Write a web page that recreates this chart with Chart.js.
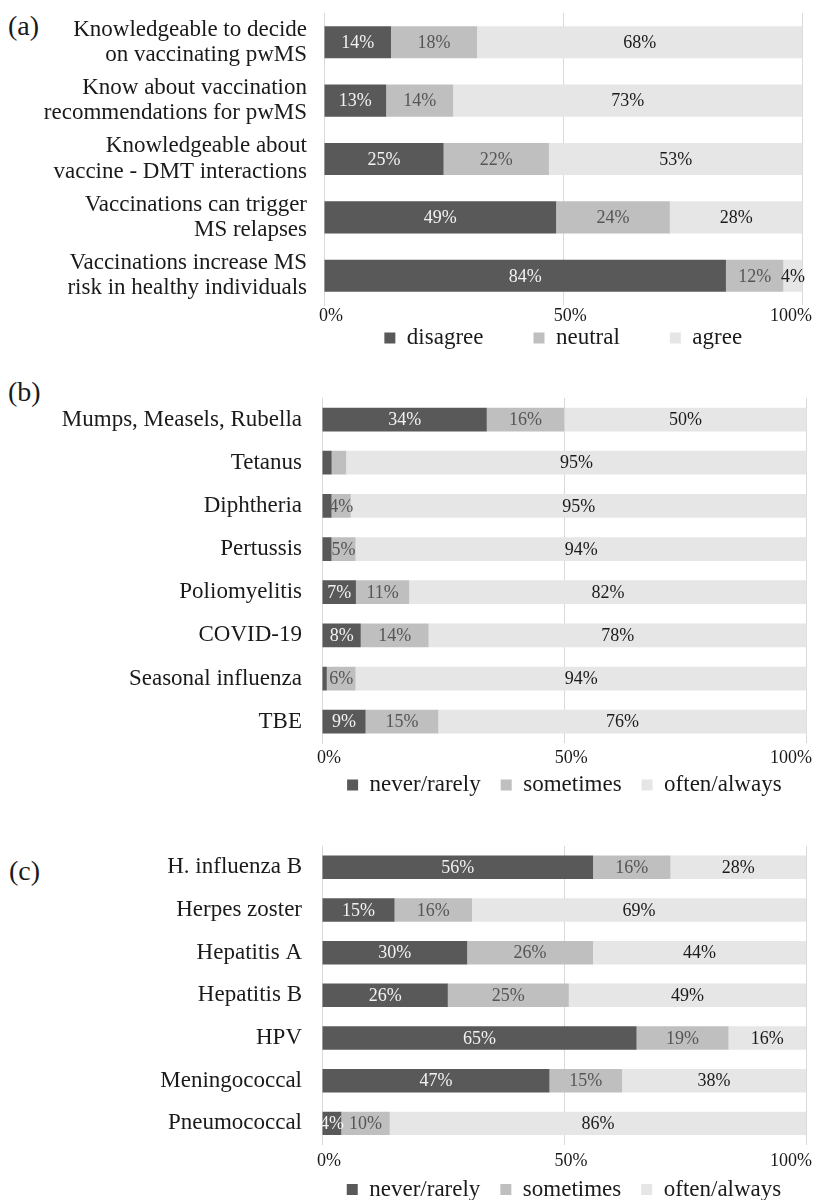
<!DOCTYPE html>
<html>
<head>
<meta charset="utf-8">
<script src="https://cdn.jsdelivr.net/npm/chart.js@4.4.1/dist/chart.umd.min.js"></script>
<style>
  html, body { margin: 0; padding: 0; background: #fff; overflow: hidden; }
  #page { position: relative; width: 814px; height: 1200px; }
  canvas { position: absolute; left: 0; }
  .tag { position: absolute; font: 28px/28px "Liberation Serif", "Times New Roman", serif; color: #1a1a1a; }
</style>
</head>
<body>
<div id="page">
  <div class="tag" style="left:8px;top:12px">(a)</div>
  <div class="tag" style="left:8px;top:378px">(b)</div>
  <div class="tag" style="left:9px;top:857px">(c)</div>
  <canvas id="chartA"></canvas>
  <canvas id="chartB"></canvas>
  <canvas id="chartC"></canvas>
</div>
<script>
const SERIF = '"Liberation Serif", "Times New Roman", serif';

// (a) knowledge / attitudes
const aCategories = [
  ['Knowledgeable to decide', 'on vaccinating pwMS'],
  ['Know about vaccination', 'recommendations for pwMS'],
  ['Knowledgeable about', 'vaccine - DMT interactions'],
  ['Vaccinations can trigger', 'MS relapses'],
  ['Vaccinations increase MS', 'risk in healthy individuals']
];
const aSeriesNames = ['disagree', 'neutral', 'agree'];
const aDisagree = [14, 13, 25, 49, 84];
const aNeutral = [18, 14, 22, 24, 12];
const aAgree = [68, 73, 53, 28, 4];

// (b) standard vaccinations
const bCategories = ['Mumps, Measels, Rubella', 'Tetanus', 'Diphtheria', 'Pertussis',
  'Poliomyelitis', 'COVID-19', 'Seasonal influenza', 'TBE'];
const bSeriesNames = ['never/rarely', 'sometimes', 'often/always'];
const bNever = [34, 2, 2, 2, 7, 8, 1, 9];
const bSometimes = [16, 3, 4, 5, 11, 14, 6, 15];
const bOften = [50, 95, 95, 94, 82, 78, 94, 76];

// (c) indication vaccinations
const cCategories = ['H. influenza B', 'Herpes zoster', 'Hepatitis A', 'Hepatitis B',
  'HPV', 'Meningococcal', 'Pneumococcal'];
const cSeriesNames = ['never/rarely', 'sometimes', 'often/always'];
const cNever = [56, 15, 30, 26, 65, 47, 4];
const cSometimes = [16, 16, 26, 25, 19, 15, 10];
const cOften = [28, 69, 44, 49, 16, 38, 86];

const xTicks = [0, 50, 100];

const fillColors = ['#595959', '#bfbfbf', '#e6e6e6'];
const labelColors = ['#f2f2f2', '#555555', '#1a1a1a'];
const AXIS_H = 22;
const LEGEND_FONT = 23;

// values under 4% carry no label in the figure
const dataLabels = {
  id: 'dataLabels',
  afterDatasetsDraw(chart) {
    const ctx = chart.ctx;
    ctx.save();
    ctx.font = '18px ' + SERIF;
    ctx.textAlign = 'center';
    ctx.textBaseline = 'middle';
    chart.data.datasets.forEach((ds, i) => {
      chart.getDatasetMeta(i).data.forEach((bar, j) => {
        const v = ds.shown[j];
        if (v < 4) return;
        ctx.fillStyle = labelColors[i];
        ctx.fillText(v + '%', (bar.x + bar.base) / 2, bar.y + 1);
      });
    });
    ctx.restore();
  }
};

function drawPanel(id, g, categories, series, names) {
  const canvas = document.getElementById(id);
  const legendH = LEGEND_FONT + g.legendGap + 10;
  const h = Math.ceil(g.bottom - g.top + AXIS_H + legendH);
  canvas.width = 814;
  canvas.height = h;
  canvas.style.top = g.top + 'px';

  const totals = categories.map((c, j) => series.reduce((s, arr) => s + arr[j], 0));

  // keeps the legend row and the last tick label where the figure has them
  const placement = {
    id: 'placement',
    afterLayout(chart) {
      const lg = chart.legend;
      const dy = (g.legendY - g.top) - (lg.top + g.legendGap + LEGEND_FONT / 2);
      lg.top += dy;
      lg.bottom += dy;
    },
    beforeDraw(chart) {
      const ctx = chart.ctx;
      chart.scales.x.getLabelItems().forEach(it => {
        ctx.font = it.font.string;
        const half = ctx.measureText(it.label).width / 2;
        const t = it.options.translation;
        if (t[0] + half > chart.width - 2) t[0] = chart.width - 2 - half;
      });
    }
  };

  new Chart(canvas, {
    type: 'bar',
    data: {
      labels: categories,
      datasets: series.map((arr, i) => ({
        label: names[i],
        data: arr.map((v, j) => v / totals[j] * 100),
        shown: arr,
        backgroundColor: fillColors[i],
        borderWidth: 0,
        barPercentage: 0.55,
        categoryPercentage: 1
      }))
    },
    options: {
      indexAxis: 'y',
      responsive: false,
      animation: false,
      devicePixelRatio: 1,
      layout: {
        padding: {
          top: g.chartTop - g.top,
          right: 814 - g.right,
          bottom: h - (g.bottom - g.top) - AXIS_H - legendH,
          left: 0
        }
      },
      scales: {
        x: {
          stacked: true,
          min: 0,
          max: 100,
          afterBuildTicks(s) { s.ticks = xTicks.map(v => ({ value: v })); },
          ticks: {
            callback: v => v + '%',
            color: '#1a1a1a',
            font: { family: SERIF, size: 18 },
            padding: g.tickPad,
            labelOffset: 7,
            maxRotation: 0
          },
          grid: { color: '#d9d9d9', drawTicks: false },
          border: { display: false },
          afterFit(s) { s.height = AXIS_H; s.paddingLeft = 0; s.paddingRight = 0; }
        },
        y: {
          stacked: true,
          ticks: {
            color: '#1a1a1a',
            font: { family: SERIF, size: 23, lineHeight: 1.1 },
            padding: g.labelGap,
            autoSkip: false
          },
          grid: { display: false, drawTicks: false },
          border: { color: '#d9d9d9', width: 1 },
          afterFit(s) { s.width = g.left; s.paddingTop = 0; s.paddingBottom = 0; }
        }
      },
      plugins: {
        legend: {
          position: 'bottom',
          fullSize: false,
          labels: {
            boxWidth: 11,
            boxHeight: 11,
            padding: g.legendGap,
            color: '#1a1a1a',
            font: { family: SERIF, size: LEGEND_FONT }
          }
        },
        tooltip: { enabled: false }
      }
    },
    plugins: [dataLabels, placement]
  });
}

drawPanel('chartA',
  { top: 0, chartTop: 13, bottom: 305, left: 324, right: 802.5, labelGap: 17, tickPad: 0, legendGap: 50, legendY: 338 },
  aCategories, [aDisagree, aNeutral, aAgree], aSeriesNames);

drawPanel('chartB',
  { top: 370, chartTop: 398, bottom: 743.3, left: 322, right: 806.7, labelGap: 20, tickPad: 4, legendGap: 20, legendY: 785 },
  bCategories, [bNever, bSometimes, bOften], bSeriesNames);

drawPanel('chartC',
  { top: 830, chartTop: 846, bottom: 1144.7, left: 322, right: 806, labelGap: 20, tickPad: 6, legendGap: 20, legendY: 1189.5 },
  cCategories, [cNever, cSometimes, cOften], cSeriesNames);
</script>
</body>
</html>
